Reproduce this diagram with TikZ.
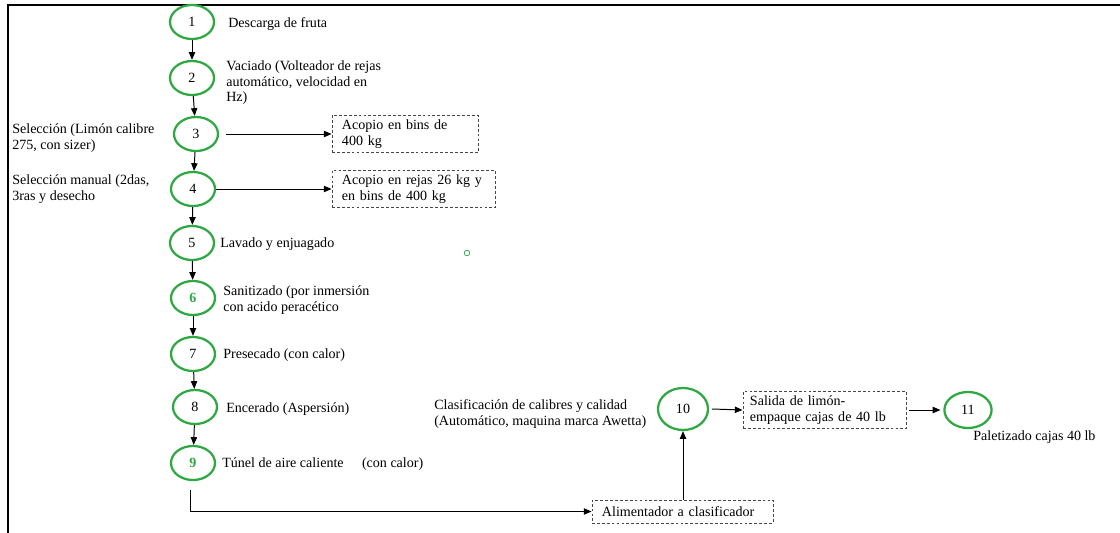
\documentclass[tikz,border=0pt]{standalone}
\usepackage{fontspec}
\setmainfont{Liberation Serif}
\usetikzlibrary{shapes.geometric,arrows.meta}
\definecolor{verde}{RGB}{46,168,66}
\definecolor{borde}{RGB}{70,70,70}

\begin{document}
\begin{tikzpicture}
      [x = 0.025cm, y = -0.025cm,
      font = \fontsize{10}{11}\selectfont,
      flecha/.style = {-{Triangle[length=5.5pt, width=4.5pt]}, line width = 0.7pt},
      paso/.style = {
         draw = verde,
         ellipse,
         line width = 1.6pt,
         inner sep = 0pt,
         minimum width = 1.1cm,
         minimum height = 0.85cm
      },
      caja/.style = {
         draw = borde,
         line width = 0.6pt,
         dash pattern = on 2pt off 1.5pt,
         align = left,
         inner xsep = 0.25cm,
         minimum height = 0.925cm
      },
      etiqueta/.style = {
         anchor = west,
         align = left,
         inner sep = 0pt
      }]

      \useasboundingbox (0, 0) rectangle (1120, 533);
      \draw[line width = 0.9pt] (8, 533) -- (8, 5) -- (1120, 5);

      \node[paso] (p1) at (192, 22) {1};
      \node[paso] (p2) at (192, 78) {2};
      \node[paso] (p3) at (196, 134) {3};
      \node[paso] (p4) at (193, 189) {4};
      \node[paso] (p5) at (192, 243) {5};
      \node[paso] (p6) at (193, 298) {\textbf{\textcolor{verde}{6}}};
      \node[paso] (p7) at (193, 354) {7};
      \node[paso] (p8) at (195, 407) {8};
      \node[paso] (p9) at (193, 463) {\textbf{\textcolor{verde}{9}}};
      \node[paso, minimum width = 1.25cm, minimum height = 1.05cm] (p10) at (683, 409) {10};
      \node[paso, minimum width = 1.18cm, minimum height = 0.9cm] (p11) at (968, 410) {11};

      \node[etiqueta] (l1) at (228, 24) {Descarga de fruta};
      \node[etiqueta] (l2) at (226, 83) {Vaciado (Volteador de rejas\\automático, velocidad en\\Hz)};
      \node[etiqueta] (l3) at (12, 138) {Selección (Limón calibre\\275, con sizer)};
      \node[etiqueta] (l4) at (12, 189) {Selección manual (2das,\\3ras y desecho};
      \node[etiqueta] (l5) at (220, 244) {Lavado y enjuagado};
      \node[etiqueta] (l6) at (223, 300) {Sanitizado (por inmersión\\con acido peracético};
      \node[etiqueta] (l7) at (223, 355) {Presecado (con calor)};
      \node[etiqueta] (l8) at (226, 409) {Encerado (Aspersión)};
      \node[etiqueta] (l9) at (222, 464) {Túnel de aire caliente\hspace{1.3em}(con calor)};
      \node[etiqueta] (l10) at (434, 414) {Clasificación de calibres y calidad\\(Automático, maquina marca Awetta)};
      \node[etiqueta] (l11) at (973, 437) {Paletizado cajas 40 lb};

      \node[caja, minimum width = 3.65cm, text width = 3.15cm] (bins) at (405, 134) {Acopio en bins de\\400 kg};
      \node[caja, minimum width = 4.075cm, text width = 3.575cm] (rejas) at (413.5, 189) {Acopio en rejas 26 kg y\\en bins de 400 kg};
      \node[caja, minimum width = 4.075cm, text width = 3.725cm, inner xsep = 0.175cm] (salida) at (824.5, 410) {Salida de limón-\\empaque cajas de 40 lb};
      \node[caja, minimum width = 4.525cm, minimum height = 0.575cm, text width = 4.025cm] (alim) at (682.5, 511.5) {Alimentador a clasificador};

      \node[draw = verde, circle, line width = 0.5pt, inner sep = 0pt, minimum size = 4pt] (punto) at (467, 253) {};

      \draw[flecha] (p1) -- (p2);
      \draw[flecha] (p2) -- (p3);
      \draw[flecha] (p3) -- (p4);
      \draw[flecha] (p4) -- (p5);
      \draw[flecha] (p5) -- (p6);
      \draw[flecha] (p6) -- (p7);
      \draw[flecha] (p7) -- (p8);
      \draw[flecha] (p8) -- (p9);

      \draw[flecha] ([xshift = 5pt]p3.east) -- (bins.west);
      \draw[flecha] (p4.east) -- (rejas.west);

      \coordinate (c9) at (190, 490);
      \draw[flecha] (c9) |- (alim.west);
      \draw[flecha] (alim.north -| p10.south) -- (p10.south);
      \draw[flecha] ([xshift = 2pt]p10.east) -- (salida.west);
      \draw[flecha] ([xshift = 2pt]salida.east) -- ([xshift = -2pt]p11.west);

   \end{tikzpicture}
\end{document}
